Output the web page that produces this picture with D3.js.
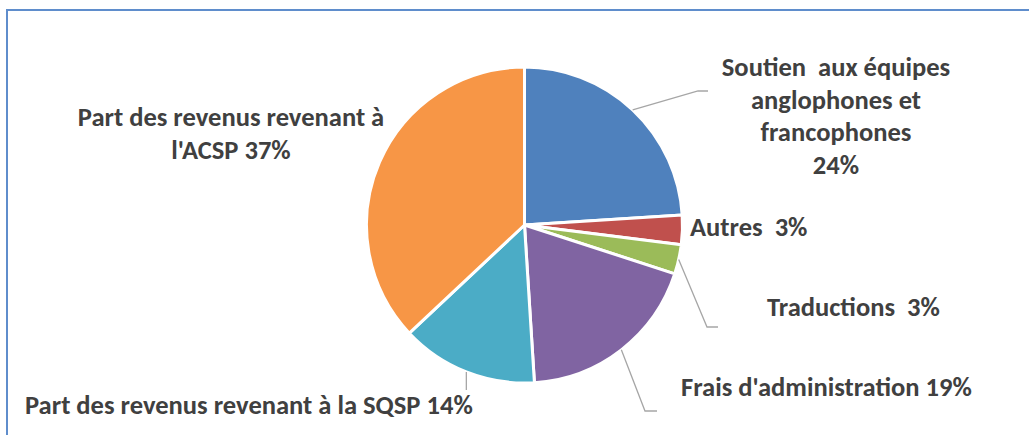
<!DOCTYPE html>
<html>
<head>
<meta charset="utf-8">
<script src="https://cdn.jsdelivr.net/npm/d3@7"></script>
<style>
  html, body { margin: 0; padding: 0; background: #ffffff; }
  svg { display: block; }
  .lbl { font-family: Calibri, Carlito, Lato, "Open Sans", sans-serif; font-weight: 700; fill: #404040; white-space: pre; }
</style>
</head>
<body>
<svg id="chart" width="1029" height="435"></svg>
<script>
// ---- data ----
const categories = [
  "Soutien  aux équipes anglophones et francophones",
  "Autres",
  "Traductions",
  "Frais d'administration",
  "Part des revenus revenant à la SQSP",
  "Part des revenus revenant à l'ACSP"
];
const values = [24, 3, 3, 19, 14, 37];
const percentLabels = ["24%", "3%", "3%", "19%", "14%", "37%"];
const colors = ["#4F81BD", "#C0504D", "#9BBB59", "#8064A2", "#4BACC6", "#F79646"];

// label text lines per slice (display)
const labelLines = [
  ["Soutien  aux équipes", "anglophones et", "francophones", "24%"],
  ["Autres  3%"],
  ["Traductions  3%"],
  ["Frais d'administration 19%"],
  ["Part des revenus revenant à la SQSP 14%"],
  ["Part des revenus revenant à", "l'ACSP 37%"]
];

// ---- layout (positions, not data) ----
const cx = 524.5, cy = 225, R = 158;
const labelLayout = [
  { x: 836, y: 67,  anchor: "middle", lead: [[698, 91], [708, 91]] },
  { x: 690, y: 227, anchor: "start",  lead: null },
  { x: 767, y: 307, anchor: "start",  lead: [[707, 327], [718, 327]] },
  { x: 681, y: 387, anchor: "start",  lead: [[645, 411], [657, 411]] },
  { x: 25,  y: 405, anchor: "start",  lead: [[null, 390]] },
  { x: 231, y: 117, anchor: "middle", lead: null }
];
const lineGap = 32.7;

const svg = d3.select("#chart");

// frame
svg.append("rect")
  .attr("x", 7).attr("y", 10)
  .attr("width", 1040).attr("height", 440)
  .attr("fill", "none")
  .attr("stroke", "#5f8dcc")
  .attr("stroke-width", 2);

const pie = d3.pie().sort(null).value(d => d)(values);
const arc = d3.arc().innerRadius(0).outerRadius(R);

const g = svg.append("g").attr("transform", `translate(${cx},${cy})`);
g.selectAll("path.slice")
  .data(pie)
  .join("path")
  .attr("class", "slice")
  .attr("d", arc)
  .attr("fill", (d, i) => colors[i])
  .attr("stroke", "#ffffff")
  .attr("stroke-width", 3)
  .attr("stroke-linejoin", "round");

// leader lines
pie.forEach((d, i) => {
  const L = labelLayout[i];
  if (!L.lead) return;
  const a = (d.startAngle + d.endAngle) / 2;
  const sx = cx + R * Math.sin(a), sy = cy - R * Math.cos(a);
  const pts = [[sx, sy]].concat(L.lead.map(p => [p[0] === null ? sx : p[0], p[1]]));
  svg.append("path")
    .attr("d", d3.line()(pts))
    .attr("fill", "none")
    .attr("stroke", "#a6a6a6")
    .attr("stroke-width", 1.3);
});

// labels
const fontSize = 20;
labelLines.forEach((lines, i) => {
  const L = labelLayout[i];
  const t = svg.append("text")
    .attr("class", "lbl")
    .attr("xml:space", "preserve")
    .attr("text-anchor", L.anchor)
    .attr("dominant-baseline", "central")
    .style("font-size", fontSize + "px");
  lines.forEach((ln, j) => {
    t.append("tspan")
      .attr("x", L.x)
      .attr("y", L.y + j * lineGap)
      .text(ln);
  });
});

// fit font size so that the SQSP label matches its width in the reference (~448px)
const probe = svg.selectAll("text.lbl").filter((d, i) => i === 4).node();
if (probe) {
  const w = probe.getComputedTextLength();
  const target = 448;
  const fs = fontSize * target / w;
  svg.selectAll("text.lbl").style("font-size", fs.toFixed(2) + "px");
}
</script>
</body>
</html>
